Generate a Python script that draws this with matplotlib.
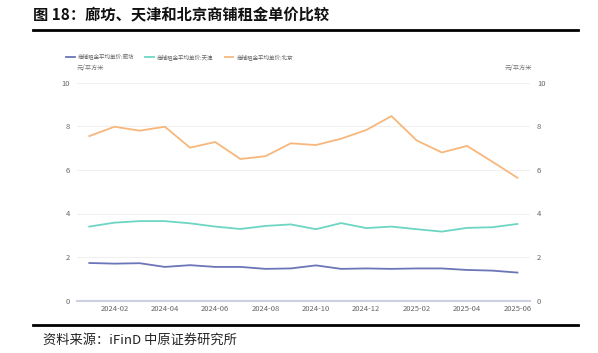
import matplotlib
matplotlib.use("Agg")
import matplotlib.pyplot as plt
from matplotlib.lines import Line2D

plt.rcParams['font.family'] = ['Noto Sans CJK SC', 'DejaVu Sans']

# Daten
months = ['2024-01', '2024-02', '2024-03', '2024-04', '2024-05', '2024-06',
          '2024-07', '2024-08', '2024-09', '2024-10', '2024-11', '2024-12',
          '2025-01', '2025-02', '2025-03', '2025-04', '2025-05', '2025-06']
langfang = [1.73, 1.70, 1.72, 1.55, 1.63, 1.55, 1.55, 1.46, 1.48, 1.62, 1.46, 1.48,
            1.46, 1.48, 1.48, 1.41, 1.38, 1.29]
tianjin = [3.40, 3.58, 3.65, 3.65, 3.55, 3.40, 3.29, 3.43, 3.50, 3.28, 3.56, 3.33,
           3.40, 3.28, 3.17, 3.34, 3.37, 3.52]
beijing = [7.55, 7.98, 7.80, 7.98, 7.02, 7.28, 6.50, 6.63, 7.22, 7.14, 7.43, 7.83,
           8.47, 7.35, 6.80, 7.10, 6.38, 5.64]
series_names = ['商铺租金平均单价:廊坊', '商铺租金平均单价:天津', '商铺租金平均单价:北京']
colors = ['#6b75b8', '#6dd5c3', '#f7b77c']

fig = plt.figure(figsize=(5.98, 3.53), dpi=100)

# Titel und Linien
fig.text(33 / 598, 1 - 15 / 353, '图 18：廊坊、天津和北京商铺租金单价比较',
         fontsize=11, fontweight='bold', va='center', ha='left', color='#111111')
fig.add_artist(Line2D([33 / 598, 578 / 598], [1 - 30 / 353, 1 - 30 / 353], color='black', lw=2))
fig.add_artist(Line2D([33 / 598, 578 / 598], [1 - 325 / 353, 1 - 325 / 353], color='black', lw=2))
fig.text(43 / 598, 1 - 340 / 353, '资料来源：iFinD 中原证券研究所',
         fontsize=9.5, va='center', ha='left', color='#222222')

# Diagramm
ax = fig.add_axes([76.7 / 598, 1 - 300.7 / 353, (530 - 76.7) / 598, (300.7 - 82.7) / 353])
x = list(range(len(months)))
for vals, name, c in zip([langfang, tianjin, beijing], series_names, colors):
    ax.plot(x, vals, color=c, lw=1.3, label=name)

ax.set_ylim(0, 10)
ax.set_xlim(-0.5, len(months) - 0.5)
ax.set_yticks([0, 2, 4, 6, 8, 10])
ax.set_xticks(x[1::2])
ax.set_xticklabels(months[1::2])
ax.grid(axis='y', color='#f0f0f0', lw=0.8)
ax.set_axisbelow(True)
for s in ['top', 'left', 'right']:
    ax.spines[s].set_visible(False)
ax.spines['bottom'].set_color('#ccd0e3')
ax.spines['bottom'].set_linewidth(1.5)
ax.tick_params(axis='both', length=0, labelsize=5.5, colors='#666666')
ax.tick_params(axis='y', labelright=True, pad=5)
ax.tick_params(axis='x', pad=3)

fig.text(77 / 598, 1 - 68 / 353, '元/平方米', fontsize=4.5, color='#777777', va='center')
fig.text(505 / 598, 1 - 68 / 353, '元/平方米', fontsize=4.5, color='#777777', va='center')

leg = ax.legend(loc='lower left', bbox_to_anchor=(66 / 598, 1 - 60 / 353), bbox_transform=fig.transFigure,
                ncol=3, frameon=False, fontsize=4, handlelength=1.6, handletextpad=0.5,
                columnspacing=2.0, borderaxespad=0, borderpad=0)
for t in leg.get_texts():
    t.set_color('#666666')

plt.savefig('out.png', dpi=100)
